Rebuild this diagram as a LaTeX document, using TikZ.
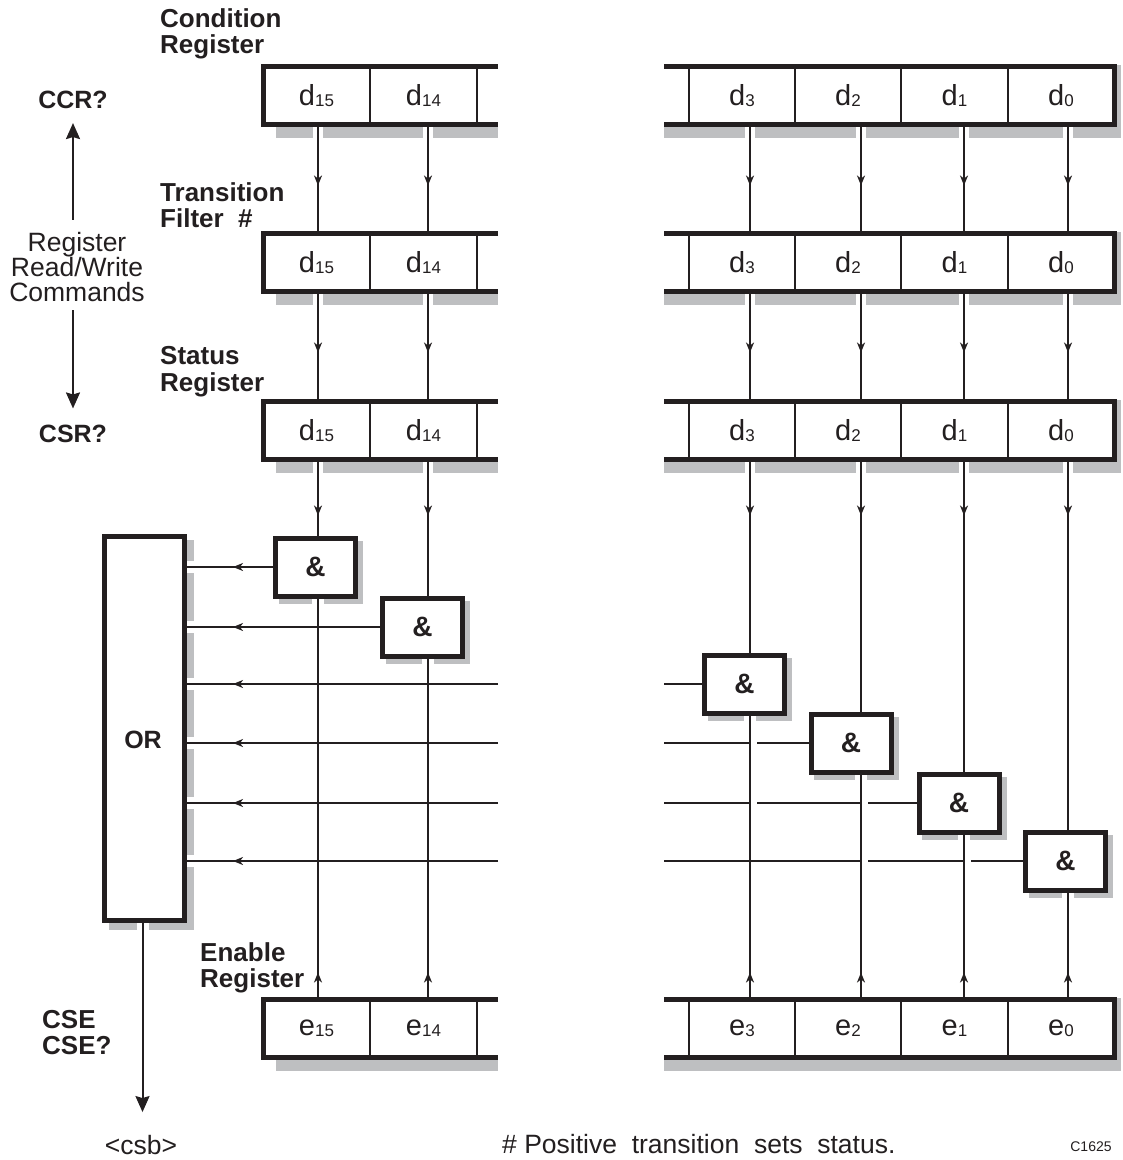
\documentclass[tikz,border=0pt]{standalone}
\usepackage{fontspec}
\setmainfont{Liberation Sans}
\usetikzlibrary{arrows.meta,decorations.markings,calc}

\definecolor{ink}{HTML}{231F20}
\definecolor{shadowgray}{HTML}{BEBFC1}

\newcommand{\bitsub}[1]{\raisebox{-1pt}{\fontsize{17}{17}\selectfont #1}}

\tikzset{
  regframe/.style={draw=ink, fill=white, line width=5pt},
  cell/.style={draw=ink, line width=2pt, minimum width=106.5pt, minimum height=58pt, inner sep=0pt, font=\fontsize{29}{30}\selectfont},
  logic/.style={draw=ink, fill=white, line width=5pt, minimum width=80pt, minimum height=58pt, inner sep=0pt, font=\fontsize{28}{30}\selectfont\bfseries},
  reglabel/.style={anchor=west, align=left, inner sep=0pt, font=\fontsize{26}{26.5}\selectfont\bfseries},
  cmd/.style={inner sep=0pt, font=\fontsize{25}{26.5}\selectfont\bfseries},
  note/.style={inner sep=0pt, font=\fontsize{26.5}{25}\selectfont},
  wire/.style={draw=ink, line width=2pt},
  tipat/.style={postaction={decorate}, decoration={markings, mark=at position #1 with {\arrow{Stealth[length=10pt, width=8pt, inset=3pt]}}}},
  bigarrow/.style={draw=ink, line width=2pt, -{Stealth[length=16pt, width=14pt, inset=2pt]}},
}

\begin{document}
\begin{tikzpicture}[x=1pt,y=-1pt,every node/.append style={text=ink}]

\useasboundingbox (0,0) rectangle (1123,1160);

\foreach \ytop in {64,231,399,997} {
  \fill[shadowgray] (276,\ytop+30) rectangle (498,\ytop+74);
  \fill[shadowgray] (664,\ytop+1) rectangle (1121,\ytop+74);
}

\fill[shadowgray] (109,540) rectangle (194,930);

\foreach \x/\y in {315.5/567, 422.5/627, 744.5/684, 851/743, 959/803, 1065.5/861} {
  \fill[shadowgray] (\x-37,\y-26) rectangle (\x+47.5,\y+36.5);
}

\foreach \x in {318,428,750,861,964,1068} {
  \foreach \ytop in {64,231,399} {
    \fill[white] (\x-5,\ytop+63) rectangle (\x+5,\ytop+75);
  }
}

\foreach \x/\y in {318/567, 428/627, 750/684, 861/743, 964/803, 1068/861} {
  \fill[white] (\x-6,\y+31) rectangle (\x+6,\y+38);
  \fill[white] (187,\y-6) rectangle (195,\y+6);
}

\fill[white] (136.5,923) rectangle (148.5,931);

\foreach \rg/\y/\ch in {cnd/95.5/d, trn/262.5/d, sts/430.5/d, enb/1028.5/e} {
  \draw[regframe] (498,\y-29) -| (263.25,\y+29) -- (498,\y+29);
  \draw[regframe] (664,\y-29) -| (1114.25,\y+29) -- (664,\y+29);
  \foreach \bit/\x in {15/316.5, 14/423.5, 3/742, 2/848, 1/954.5, 0/1061} {
    \node[cell] (\rg\bit) at (\x,\y) {\ch\bitsub{\bit}};
  }
}

\foreach \bit/\x/\y in {15/315.5/567, 14/422.5/627, 3/744.5/684, 2/851/743, 1/959/803, 0/1065.5/861} {
  \node[logic] (g\bit) at (\x,\y) {\&};
}

\node[logic, minimum height=384pt] (orgate) at (144.5,728.5) {};
\node[cmd] (ortxt) at (143,740) {OR};

\foreach \bit/\x in {15/318, 14/428, 3/750, 2/861, 1/964, 0/1068} {
  \coordinate (l\bit) at (\x,0);
  \draw[wire, tipat=60pt] (l\bit |- cnd\bit.south) -- (l\bit |- trn\bit.north);
  \draw[wire, tipat=60pt] (l\bit |- trn\bit.south) -- (l\bit |- sts\bit.north);
  \draw[wire, tipat=55pt] (l\bit |- sts\bit.south) -- (l\bit |- g\bit.north);
  \draw[wire, tipat=26pt] (l\bit |- enb\bit.north) -- (l\bit |- g\bit.south);
}

\coordinate (cutL) at (498,0);
\coordinate (cutR) at (664,0);

\draw[wire, tipat=-46pt] (g15.west) -- (orgate.east |- g15.west);
\draw[wire, tipat=-46pt] (g14.west) -- (orgate.east |- g14.west);
\foreach \bit in {3,2,1,0} {
  \draw[wire, tipat=-46pt] (cutL |- g\bit.west) -- (orgate.east |- g\bit.west);
}

\draw[wire] (cutR |- g3.west) -- (g3.west);
\draw[wire] (cutR |- g2.west) -- (l3 |- g2.west);
\draw[wire] ($(l3 |- g2.west)+(7,0)$) -- (g2.west);
\draw[wire] (cutR |- g1.west) -- (l3 |- g1.west);
\draw[wire] ($(l3 |- g1.west)+(7,0)$) -- (l2 |- g1.west);
\draw[wire] ($(l2 |- g1.west)+(7,0)$) -- (g1.west);
\draw[wire] (cutR |- g0.west) -- (l2 |- g0.west);
\draw[wire] ($(l2 |- g0.west)+(7,0)$) -- (l1 |- g0.west);
\draw[wire] ($(l1 |- g0.west)+(7,0)$) -- (g0.west);

\node[reglabel] (cndlbl) at (160,33.9) {Condition\\Register};
\node[reglabel] (trnlbl) at (160,205.3) {Transition\\Filter\ \ \#};
\node[reglabel] (stslbl) at (160,371.9) {Status\\Register};
\node[reglabel] (enblbl) at (200,967.9) {Enable\\Register};
\node[reglabel] (cselbl) at (42,1032.3) {CSE\\CSE?};

\node[cmd] (ccr) at (73,100) {CCR?};
\node[cmd] (csr) at (73,433.5) {CSR?};
\node[note, align=center] (rwc) at (77,267.5) {Register\\Read/Write\\Commands};

\draw[bigarrow, shorten <=13pt, shorten >=14pt] (ccr |- rwc.north) -- (ccr.south);
\draw[bigarrow, shorten <=8pt, shorten >=16pt] (csr |- rwc.south) -- (csr.north);

\node[note] (csb) at (141,1145) {<csb>};
\coordinate (orout) at ([xshift=-2pt]orgate.south);
\draw[bigarrow, shorten >=23pt] (orout) -- (orout |- csb.north);

\node[note, anchor=west] (fnote) at (502,1144) {\#~Positive\ \ transition\ \ sets\ \ status.};
\node[inner sep=0pt, font=\fontsize{14}{14}\selectfont] (code) at (1091,1147) {C1625};

\end{tikzpicture}
\end{document}
